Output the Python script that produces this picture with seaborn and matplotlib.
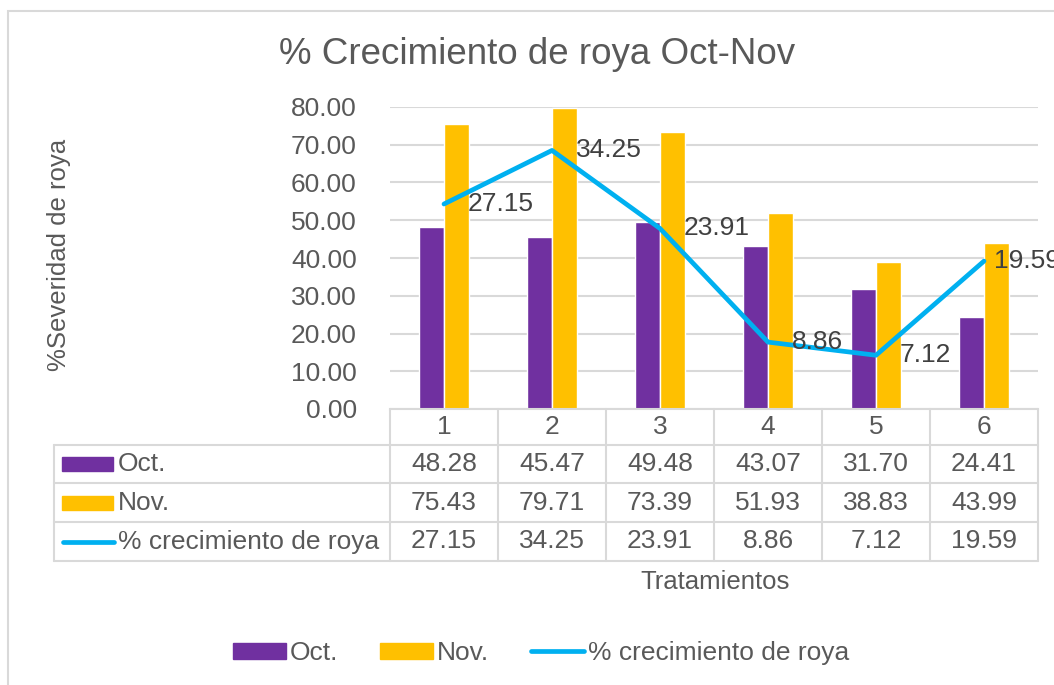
# Import Libraries
import numpy as np
import pandas as pd
import seaborn as sns
import matplotlib.pyplot as plt
from matplotlib.patches import Rectangle
from matplotlib.lines import Line2D

# Data
tratamientos = ["1", "2", "3", "4", "5", "6"]
octubre = [48.28, 45.47, 49.48, 43.07, 31.70, 24.41]
noviembre = [75.43, 79.71, 73.39, 51.93, 38.83, 43.99]
crecimiento = [27.15, 34.25, 23.91, 8.86, 7.12, 19.59]
series_names = ["Oct.", "Nov.", "% crecimiento de roya"]
y_ticks = [0, 10, 20, 30, 40, 50, 60, 70, 80]

PURPLE = "#7030A0"
YELLOW = "#FFC000"
BLUE = "#00B0F0"
TEXT = "#595959"
GRID = "#D9D9D9"

sns.set_theme(style="white")
plt.rcParams["font.family"] = ["Liberation Sans", "DejaVu Sans"]

W, H = 1054, 685
fig = plt.figure(figsize=(W / 100, H / 100), dpi=100)

# pixel box helper -> figure fraction
def box(x0, y0, x1, y1):
    return [x0 / W, 1 - y1 / H, (x1 - x0) / W, (y1 - y0) / H]

# outer chart border
fig.patches.append(Rectangle((8 / W, -0.1), 1.2, 1 - 11 / H + 0.1,
                             transform=fig.transFigure, fill=False,
                             edgecolor=GRID, linewidth=1.5))

# Plot area
px0, px1, py_top, py_bot = 390, 1038, 107, 409
ax = fig.add_axes(box(px0, py_top, px1, py_bot))

df = pd.DataFrame({
    "Tratamiento": tratamientos * 2,
    "Serie": [series_names[0]] * len(tratamientos) + [series_names[1]] * len(tratamientos),
    "Valor": octubre + noviembre,
})
sns.barplot(data=df, x="Tratamiento", y="Valor", hue="Serie",
            palette=[PURPLE, YELLOW], width=0.47, saturation=1,
            ax=ax, legend=False)

ax.set_ylim(0, 80)
ax.set_xlim(-0.5, len(tratamientos) - 0.5)
ax.set_yticks(y_ticks)
ax.set_yticklabels([f"{v:.2f}" for v in y_ticks], color=TEXT, fontsize=19)
ax.tick_params(axis="y", length=0, pad=24)
ax.set_xticks([])
ax.set_xlabel("")
ax.set_ylabel("")
ax.grid(axis="y", color=GRID, linewidth=1.5)
ax.set_axisbelow(True)
for s in ["top", "right", "left"]:
    ax.spines[s].set_visible(False)
ax.spines["bottom"].set_color(GRID)
ax.spines["bottom"].set_linewidth(1.5)

# Secondary axis for growth line (hidden)
ax2 = ax.twinx()
xpos = np.arange(len(tratamientos))
sns.lineplot(x=xpos, y=crecimiento, color=BLUE, linewidth=3.4, ax=ax2)
ax2.set_ylim(0, 40)
ax2.set_xlim(-0.5, len(tratamientos) - 0.5)
ax2.axis("off")
for xi, v in zip(xpos, crecimiento):
    # last label sits closer to the point, as in the original
    off = 7 if xi == xpos[-1] else 17
    ax2.annotate(f"{v:.2f}", (xi, v), xytext=(off, 0), textcoords="offset points",
                 ha="left", va="center", fontsize=19, color="#404040",
                 annotation_clip=False)

# Title and axis labels
fig.text(537 / W, 1 - 54 / H, "% Crecimiento de roya Oct-Nov", ha="center",
         va="center", fontsize=26.5, color=TEXT)
fig.text(59 / W, 1 - 255 / H, "%Severidad de roya", rotation=90, ha="center",
         va="center", fontsize=18.5, color=TEXT)
fig.text(715 / W, 1 - 582 / H, "Tratamientos", ha="center", va="center",
         fontsize=18.5, color=TEXT)

# Data table
tax = fig.add_axes([0, 0, 1, 1])
tax.set_xlim(0, W)
tax.set_ylim(H, 0)
tax.axis("off")

col_w = (px1 - px0) / len(tratamientos)
row_edges = [py_bot, 445, 483, 522, 561]
lkw = dict(color=GRID, linewidth=1.5)
for i in range(len(tratamientos) + 1):
    xv = px0 + i * col_w
    tax.plot([xv, xv], [row_edges[0], row_edges[-1]], **lkw)
tax.plot([54, 54], [row_edges[1], row_edges[-1]], **lkw)
for yv in row_edges[1:]:
    tax.plot([54, px1], [yv, yv], **lkw)

for i, t in enumerate(tratamientos):
    tax.text(px0 + (i + 0.5) * col_w, 427, t, ha="center", va="center",
             fontsize=19, color=TEXT)

rows = [octubre, noviembre, crecimiento]
for r, (name, vals) in enumerate(zip(series_names, rows)):
    yc = (row_edges[r + 1] + row_edges[r + 2]) / 2
    if r < 2:
        tax.add_patch(Rectangle((62, yc - 7), 51, 14,
                                color=[PURPLE, YELLOW][r]))
    else:
        tax.plot([63, 114], [yc, yc], color=BLUE, linewidth=3.4,
                 solid_capstyle="round")
    tax.text(118, yc, name, ha="left", va="center", fontsize=19, color=TEXT)
    for i, v in enumerate(vals):
        tax.text(px0 + (i + 0.5) * col_w, yc, f"{v:.2f}", ha="center",
                 va="center", fontsize=19, color=TEXT)

# Bottom legend
handles = [
    Rectangle((0, 0), 1, 1, color=PURPLE),
    Rectangle((0, 0), 1, 1, color=YELLOW),
    Line2D([0], [0], color=BLUE, linewidth=3.4, solid_capstyle="round"),
]
leg = fig.legend(handles, series_names, loc="center", ncol=3,
                 bbox_to_anchor=(541 / W, 1 - 653 / H), frameon=False,
                 fontsize=19, handlelength=2.0, handleheight=0.55,
                 handletextpad=0.15, columnspacing=1.6)
for txt in leg.get_texts():
    txt.set_color(TEXT)

fig.savefig("out.png", dpi=100)
